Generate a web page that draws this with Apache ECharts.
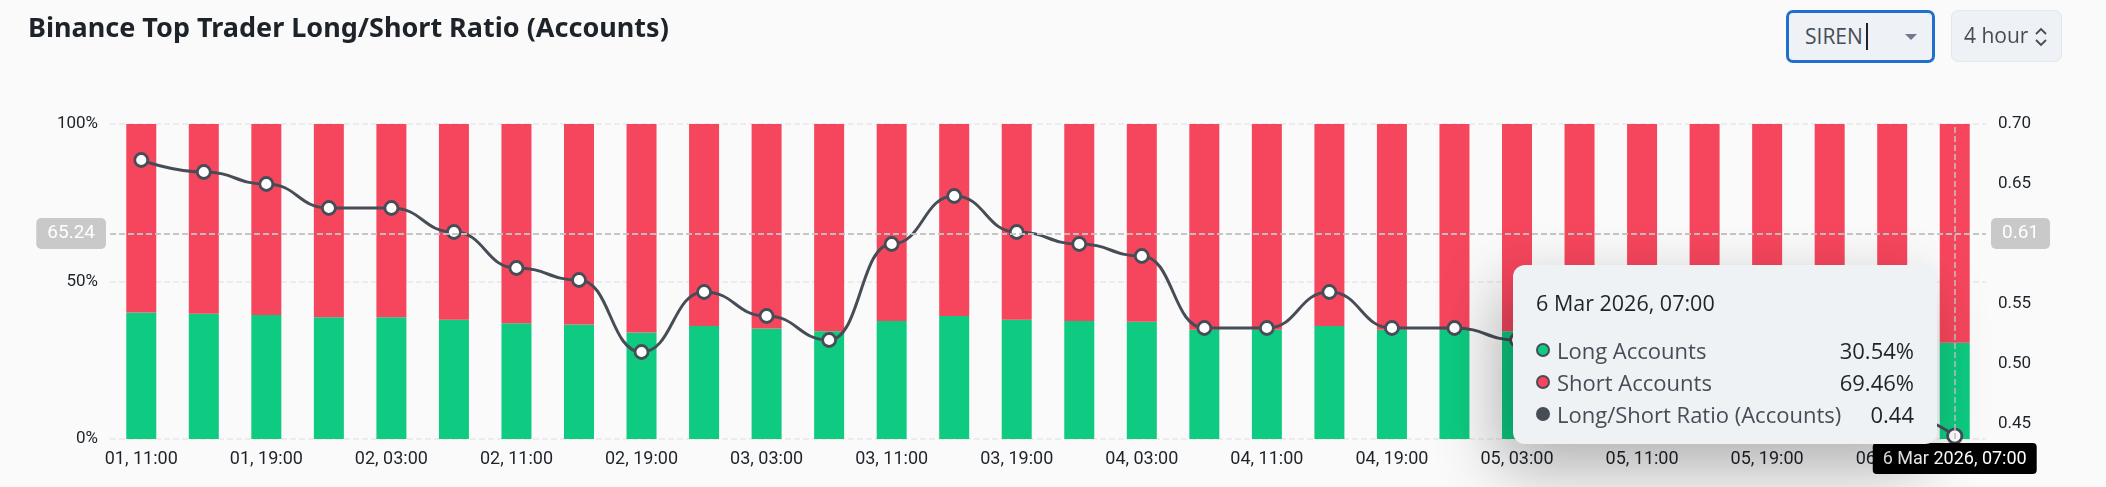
<!DOCTYPE html>
<html>
<head>
<meta charset="utf-8">
<script src="https://cdn.jsdelivr.net/npm/echarts@6/dist/echarts.min.js"></script>
<style>
  html, body { margin:0; padding:0; background:#fafafa; }
  #wrap { position:relative; width:2106px; height:487px; overflow:hidden; background:#fafafa; }
  #chart { position:absolute; left:0; top:0; width:2106px; height:487px; }
  .ctl { position:absolute; box-sizing:border-box; background:#eef1f5; border-radius:7px;
         font-family:"Open Sans","Noto Sans",sans-serif; font-size:21px; color:#474d57; }
  #sym { left:1786px; top:10px; width:149px; height:53px; border:3px solid #1f6fcf; }
  #sym .t { position:absolute; left:16px; top:10px; line-height:27px; }
  #sym .cur { position:absolute; left:77px; top:10px; width:2px; height:27px; background:#1e2329; }
  #sym .car { position:absolute; left:116px; top:21px; width:0; height:0;
              border-left:6px solid transparent; border-right:6px solid transparent; border-top:6px solid #707a8a; }
  #per { left:1951px; top:10px; width:111px; height:52px; border:1px solid #e3e6ea; }
  #per .t { position:absolute; left:12px; top:11px; line-height:27px; }
  #per svg { position:absolute; left:81px; top:14px; }
</style>
</head>
<body>
<div id="wrap">
  <div id="chart"></div>
  <div id="sym" class="ctl"><span class="t">SIREN</span><span class="cur"></span><span class="car"></span></div>
  <div id="per" class="ctl"><span class="t">4 hour</span>
    <svg width="16" height="24" viewBox="0 0 16 24"><path d="M3 9 L8 4 L13 9" fill="none" stroke="#474d57" stroke-width="1.8"/><path d="M3 15 L8 20 L13 15" fill="none" stroke="#474d57" stroke-width="1.8"/></svg>
  </div>
</div>
<script>
// ---- data ----
var categories = [
  "2026-03-01 11:00","2026-03-01 15:00","2026-03-01 19:00","2026-03-01 23:00",
  "2026-03-02 03:00","2026-03-02 07:00","2026-03-02 11:00","2026-03-02 15:00",
  "2026-03-02 19:00","2026-03-02 23:00","2026-03-03 03:00","2026-03-03 07:00",
  "2026-03-03 11:00","2026-03-03 15:00","2026-03-03 19:00","2026-03-03 23:00",
  "2026-03-04 03:00","2026-03-04 07:00","2026-03-04 11:00","2026-03-04 15:00",
  "2026-03-04 19:00","2026-03-04 23:00","2026-03-05 03:00","2026-03-05 07:00",
  "2026-03-05 11:00","2026-03-05 15:00","2026-03-05 19:00","2026-03-05 23:00",
  "2026-03-06 03:00","2026-03-06 07:00"
];
var longAccounts = [40.12,39.76,39.39,38.65,38.62,37.89,36.71,36.31,33.77,35.90,35.06,34.21,37.50,39.02,37.89,37.50,37.20,34.70,34.68,35.90,34.66,34.62,34.21,33.77,33.33,32.89,32.43,31.97,31.51,30.54];
var shortAccounts = [59.88,60.24,60.61,61.35,61.38,62.11,63.29,63.69,66.23,64.10,64.94,65.79,62.50,60.98,62.11,62.50,62.80,65.30,65.32,64.10,65.34,65.38,65.79,66.23,66.67,67.11,67.57,68.03,68.49,69.46];
var lsRatio = [0.67,0.66,0.65,0.63,0.63,0.61,0.58,0.57,0.51,0.56,0.54,0.52,0.60,0.64,0.61,0.60,0.59,0.53,0.53,0.56,0.53,0.53,0.52,0.51,0.50,0.49,0.48,0.47,0.46,0.44];
var leftTicks = ["0%","50%","100%"];
var hoverIndex = 29;
var hoverLeftValue = 65.24;

var MONTHS = ["Jan","Feb","Mar","Apr","May","Jun","Jul","Aug","Sep","Oct","Nov","Dec"];
function shortLabel(s){ return s.slice(8,10) + ", " + s.slice(11,16); }
function fullLabel(s){ return parseInt(s.slice(8,10),10) + " " + MONTHS[parseInt(s.slice(5,7),10)-1] + " " + s.slice(0,4) + ", " + s.slice(11,16); }

var GREEN = "#0ecb81", RED = "#f6465d", LINE = "#474d57";
var AX_FONT = "Roboto, 'Noto Sans', sans-serif";
var TT_FONT = "'Open Sans','Noto Sans',sans-serif";

var chart = echarts.init(document.getElementById('chart'));
chart.setOption({
  animation: false,
  backgroundColor: 'transparent',
  title: {
    text: "Binance Top Trader Long/Short Ratio (Accounts)",
    left: 23, top: 11,
    textStyle: { fontFamily: "'Noto Sans', sans-serif", fontSize: 27, fontWeight: 'bold', color: '#1e2329' }
  },
  grid: { left: 110, right: 120, top: 124, bottom: 48 },
  tooltip: {
    trigger: 'axis',
    alwaysShowContent: true,
    transitionDuration: 0,
    showDelay: 0,
    position: function(){ return [1513, 265]; },
    backgroundColor: '#eff2f5',
    borderWidth: 0,
    padding: [24, 23, 14, 23],
    extraCssText: 'border-radius:12px; box-shadow: -14px 24px 64px rgba(0,0,0,0.30);',
    axisPointer: {
      type: 'cross',
      crossStyle: { color: '#c4c4c4', type: 'dashed', width: 1.5 },
      lineStyle: { color: '#c4c4c4', type: 'dashed', width: 1.5 }
    },
    formatter: function(params){
      var idx = params[0].dataIndex;
      function row(color, border, name, val){
        return '<div style="display:flex;align-items:center;height:32px;">' +
          '<span style="display:inline-block;width:10px;height:10px;border-radius:50%;background:' + color + ';border:2.5px solid ' + border + ';margin-right:7px;"></span>' +
          '<span style="flex:1;color:#474d57;">' + name + '</span>' +
          '<span style="color:#1e2329;">' + val + '</span></div>';
      }
      return '<div style="width:378px;font-family:' + TT_FONT + ';font-size:22px;line-height:1;">' +
        '<div style="color:#1e2329;height:28px;line-height:28px;margin-bottom:17px;font-size:21.5px;">' + fullLabel(categories[idx]) + '</div>' +
        row(GREEN, LINE, 'Long Accounts', longAccounts[idx].toFixed(2) + '%') +
        row(RED, LINE, 'Short Accounts', shortAccounts[idx].toFixed(2) + '%') +
        row(LINE, LINE, 'Long/Short Ratio (Accounts)', lsRatio[idx].toFixed(2)) +
        '</div>';
    }
  },
  xAxis: {
    type: 'category',
    data: categories,
    axisLine: { show: false },
    axisTick: { show: false },
    axisLabel: {
      interval: 1, margin: 11, color: '#1e2329', fontSize: 18, fontFamily: AX_FONT,
      formatter: function(v){ return shortLabel(v); }
    },
    axisPointer: {
      label: {
        backgroundColor: '#000', color: '#fff', fontSize: 18, fontFamily: AX_FONT,
        padding: [7, 10, 6, 10], borderRadius: 4, margin: 4,
        formatter: function(p){ return fullLabel(p.value); }
      }
    }
  },
  yAxis: [
    {
      type: 'value', min: 0, max: 100, interval: 50,
      axisLine: { show: false }, axisTick: { show: false },
      axisLabel: { margin: 12, color: '#1e2329', fontSize: 17, fontFamily: AX_FONT,
        formatter: function(v){ return leftTicks[Math.round(v/50)]; } },
      splitLine: { show: true, lineStyle: { color: '#e8e8e8', type: 'dashed', width: 1.5 } },
      axisPointer: {
        label: { backgroundColor: '#c9c9c9', color: '#fff', fontSize: 19, fontFamily: AX_FONT,
          padding: [6, 11, 6, 11], borderRadius: 5, margin: 4,
          formatter: function(p){ return p.value.toFixed(2); } }
      }
    },
    {
      type: 'value', min: 0.4375, max: 0.70, splitNumber: 5,
      axisLine: { show: false }, axisTick: { show: false },
      splitLine: { show: false },
      axisLabel: { margin: 12, color: '#1e2329', fontSize: 17, fontFamily: AX_FONT, showMinLabel: false,
        formatter: function(v){ return v.toFixed(2); } },
      axisPointer: {
        label: { backgroundColor: '#c9c9c9', color: '#fff', fontSize: 19, fontFamily: AX_FONT,
          padding: [6, 11, 6, 11], borderRadius: 5, margin: 5,
          formatter: function(p){ return p.value.toFixed(2); } }
      }
    }
  ],
  series: [
    { name: 'Long Accounts', type: 'bar', stack: 'acc', barWidth: 30, data: longAccounts,
      itemStyle: { color: GREEN }, emphasis: { disabled: true } },
    { name: 'Short Accounts', type: 'bar', stack: 'acc', barWidth: 30, data: shortAccounts,
      itemStyle: { color: RED }, emphasis: { disabled: true } },
    { name: 'Long/Short Ratio (Accounts)', type: 'line', yAxisIndex: 1, data: lsRatio,
      smooth: 0.5, smoothMonotone: 'x',
      symbol: 'circle', symbolSize: 13, showAllSymbol: true,
      lineStyle: { color: LINE, width: 3 },
      itemStyle: { color: '#fff', borderColor: LINE, borderWidth: 2.8 },
      emphasis: { disabled: true }, z: 5 }
  ]
});

var px = chart.convertToPixel({ xAxisIndex: 0 }, categories[hoverIndex]);
var py = chart.convertToPixel({ yAxisIndex: 0 }, hoverLeftValue);
chart.dispatchAction({ type: 'showTip', x: px, y: py });
</script>
</body>
</html>
